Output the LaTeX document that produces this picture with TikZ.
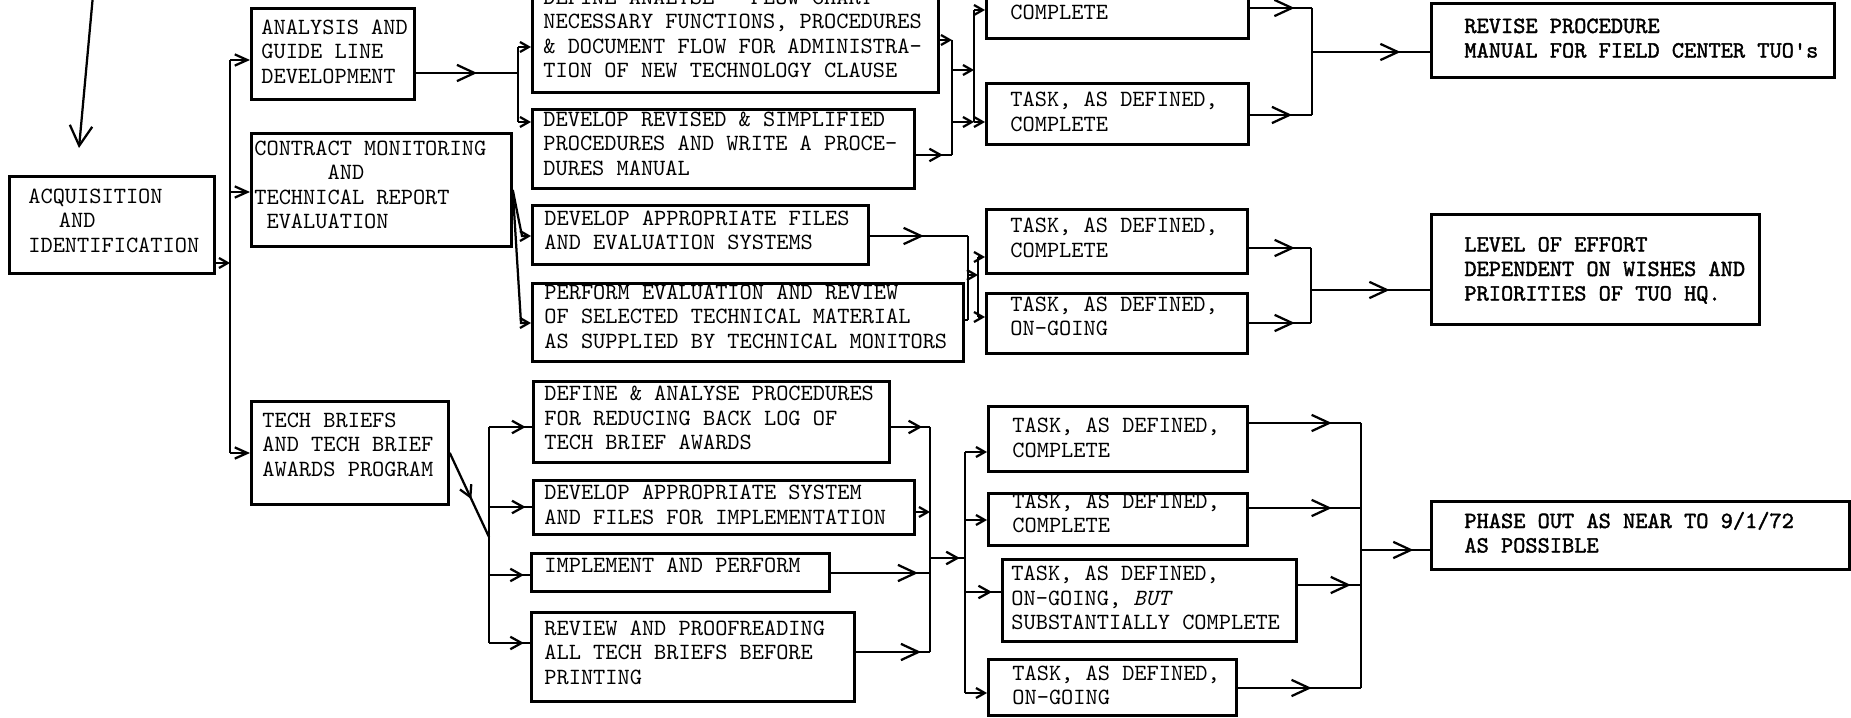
\documentclass[tikz,border=0pt]{standalone}
\usepackage{fontspec}
\setmonofont{lmmono10}[Extension=.otf, UprightFont=*-regular, ItalicFont=*-italic, BoldFont=*-regular, BoldFeatures={FakeBold=1.6}]
\usetikzlibrary{arrows.meta,decorations.markings}
\newcommand\tx[4]{\raisebox{#1}[\height][\depth]{\makebox[#3][l]{\hspace*{#2}\begin{tabular}{@{}l@{}}#4\end{tabular}}}}
\newcommand\chs[1]{\hspace*{#1\fontcharwd\font`M}}
\begin{document}
\begin{tikzpicture}[x=0.4pt,y=-0.4pt,
  box/.style={draw, line width=1.1pt, inner sep=0pt, anchor=north west, font=\ttfamily\fontsize{9.3}{9.8}\selectfont},
  bx/.style n args={2}{minimum width=#1, minimum height=#2},
  ln/.style={line width=0.9pt},
  tip/.style={-{Straight Barb[length=5pt,width=4.5pt]}},
  stip/.style={-{Straight Barb[length=3.5pt,width=4pt]}},
  marr/.style={postaction={decorate}, decoration={markings, mark=at position #1 with {\arrow{Straight Barb[length=7pt,width=6.5pt]}}}},
  smarr/.style={postaction={decorate}, decoration={markings, mark=at position #1 with {\arrow{Straight Barb[length=4.5pt,width=5pt]}}}}
]
\fill[white] (0,0) rectangle (1851,718);
\useasboundingbox (0,0) rectangle (1851,718);
\clip (0,0) rectangle (1851,718);

% ---------- boxes ----------
\node[box,bx={82pt}{38.8pt}] (acq) at (8,175) {\tx{0.9pt}{7.6pt}{82pt}{ACQUISITION\\\chs{2.5}AND\\IDENTIFICATION}};
\node[box,bx={65.2pt}{36.4pt}] (ana) at (250,7) {\tx{0pt}{4pt}{65.2pt}{ANALYSIS AND\\GUIDE LINE\\DEVELOPMENT}};
\node[box,bx={104pt}{45.2pt}] (con) at (250,132) {\tx{1.2pt}{1.2pt}{104pt}{CONTRACT MONITORING\\\chs{6}AND\\TECHNICAL REPORT\\\chs{1}EVALUATION}};
\node[box,bx={78.8pt}{41.2pt}] (tec) at (250,400) {\tx{2.4pt}{4.4pt}{78.8pt}{TECH BRIEFS\\AND TECH BRIEF\\AWARDS PROGRAM}};

\node[box,bx={162.4pt}{45.2pt}] (def) at (531,-22) {\tx{0pt}{4.4pt}{162.4pt}{DEFINE ANALYSE - FLOW CHART\\NECESSARY FUNCTIONS, PROCEDURES\\\& DOCUMENT FLOW FOR ADMINISTRA-\\TION OF NEW TECHNOLOGY CLAUSE}};
\node[box,bx={152.8pt}{31.6pt}] (dev) at (531,108) {\tx{1.2pt}{4.4pt}{152.8pt}{DEVELOP REVISED \& SIMPLIFIED\\PROCEDURES AND WRITE A PROCE-\\DURES MANUAL}};
\node[box,bx={104.8pt}{19.2pt}] (tk1) at (985,-11) {\tx{0pt}{9.6pt}{104.8pt}{COMPLETE}};
\node[box,bx={104.8pt}{24.4pt}] (tk2) at (985,82) {\tx{0pt}{9.6pt}{104.8pt}{TASK, AS DEFINED,\\COMPLETE}};
\node[box,bx={161.2pt}{29.6pt}] (rev) at (1430,2) {\bfseries\tx{0pt}{13.2pt}{161.2pt}{REVISE PROCEDURE\\MANUAL FOR FIELD CENTER TUO\textquotesingle s}};

\node[box,bx={134.4pt}{23.6pt}] (dfl) at (531,204) {\tx{0.9pt}{4.8pt}{134.4pt}{DEVELOP APPROPRIATE FILES\\AND EVALUATION SYSTEMS}};
\node[box,bx={172.4pt}{31.2pt}] (per) at (531,282) {\tx{1.4pt}{4.8pt}{172.4pt}{PERFORM EVALUATION AND REVIEW\\OF SELECTED TECHNICAL MATERIAL\\AS SUPPLIED BY TECHNICAL MONITORS}};
\node[box,bx={104.4pt}{25.6pt}] (tk3) at (985,208) {\tx{0.5pt}{9.6pt}{104.4pt}{TASK, AS DEFINED,\\COMPLETE}};
\node[box,bx={104.4pt}{24pt}] (tk4) at (985,292) {\tx{2pt}{9.6pt}{104.4pt}{TASK, AS DEFINED,\\ON-GOING}};
\node[box,bx={131.2pt}{44pt}] (lev) at (1430,213) {\bfseries\tx{-0.7pt}{13.2pt}{131.2pt}{LEVEL OF EFFORT\\DEPENDENT ON WISHES AND\\PRIORITIES OF TUO HQ.}};

\node[box,bx={142.4pt}{32.4pt}] (da) at (532,380) {\tx{0.6pt}{4.4pt}{142.4pt}{DEFINE \& ANALYSE PROCEDURES\\FOR REDUCING BACK LOG OF\\TECH BRIEF AWARDS}};
\node[box,bx={152.4pt}{21.6pt}] (ds) at (532,479) {\tx{0.2pt}{4.4pt}{152.4pt}{DEVELOP APPROPRIATE SYSTEM\\AND FILES FOR IMPLEMENTATION}};
\node[box,bx={119.2pt}{15.2pt}] (ip) at (530,552) {\tx{1.8pt}{5.2pt}{119.2pt}{IMPLEMENT AND PERFORM}};
\node[box,bx={129.2pt}{35.6pt}] (rv) at (530,611) {\tx{0.9pt}{5.2pt}{129.2pt}{REVIEW AND PROOFREADING\\ALL TECH BRIEFS BEFORE\\PRINTING}};
\node[box,bx={103.6pt}{26pt}] (tk5) at (987,405) {\tx{-0.5pt}{9.6pt}{103.6pt}{TASK, AS DEFINED,\\COMPLETE}};
\node[box,bx={103.6pt}{20.8pt}] (tk6) at (987,492) {\tx{1.6pt}{9.6pt}{103.6pt}{TASK, AS DEFINED,\\COMPLETE}};
\node[box,bx={117.6pt}{32.8pt}] (tk7) at (1001,558) {\tx{0pt}{3.6pt}{117.6pt}{TASK, AS DEFINED,\\ON-GOING, \textit{BUT}\\SUBSTANTIALLY COMPLETE}};
\node[box,bx={99.2pt}{22.4pt}] (tk8) at (987,658) {\tx{0pt}{9.6pt}{99.2pt}{TASK, AS DEFINED,\\ON-GOING}};
\node[box,bx={167.2pt}{27.2pt}] (pha) at (1430,500) {\bfseries\tx{0pt}{13.2pt}{167.2pt}{PHASE OUT AS NEAR TO 9/1/72\\AS POSSIBLE}};

% ---------- junction coordinates ----------
\coordinate (h1) at (93,-5);   \coordinate (h2) at (79,148);
\coordinate (b1t) at (230,60); \coordinate (b1c) at (230,192);
\coordinate (b1a) at (230,263); \coordinate (b1b) at (230,453);

\coordinate (a1) at (518,73);  \coordinate (a1t) at (518,47);  \coordinate (a1b) at (518,122);
\coordinate (a2t) at (952,40); \coordinate (a2b) at (952,155);
\coordinate (a2m1) at (952,70); \coordinate (a2m2) at (952,122);
\coordinate (a3t) at (974,10); \coordinate (a3b) at (974,122); \coordinate (a3m1) at (974,70);
\coordinate (a4t) at (1312,8); \coordinate (a4b) at (1312,115); \coordinate (a4m) at (1312,52);

\coordinate (c0) at (510,190); \coordinate (c1) at (522,236); \coordinate (c2) at (521,323);
\coordinate (d1t) at (968,236); \coordinate (d1b) at (968,320); \coordinate (d1m) at (968,275);
\coordinate (d2t) at (978,257); \coordinate (d2b) at (978,317); \coordinate (d2m) at (978,275);
\coordinate (d3t) at (1311,248); \coordinate (d3b) at (1311,323); \coordinate (d3m) at (1311,290);

\coordinate (e0) at (489,537); \coordinate (e1t) at (489,427); \coordinate (e1s) at (489,507);
\coordinate (e1i) at (489,575); \coordinate (e1b) at (489,643);
\coordinate (f1t) at (930,427); \coordinate (f1s) at (930,512); \coordinate (f1i) at (930,573);
\coordinate (f1b) at (930,652); \coordinate (f1m) at (930,558);
\coordinate (g1t) at (965,452); \coordinate (g1s) at (965,520); \coordinate (g1i) at (965,592);
\coordinate (g1b) at (965,693); \coordinate (g1m) at (965,558);
\coordinate (k1t) at (1361,423); \coordinate (k1s) at (1361,508); \coordinate (k1i) at (1361,585);
\coordinate (k1b) at (1361,688); \coordinate (k1m) at (1361,550);

% ---------- hand-drawn arrow ----------
\draw[ln,-{Straight Barb[length=8pt,width=9pt]}] (h1) -- (h2);

% ---------- first fan-out ----------
\draw[ln] (b1t) -- (b1b);
\draw[ln,stip] (acq.east |- b1a) -- (b1a);
\draw[ln,tip] (b1t) -- (ana.west |- b1t);
\draw[ln,tip] (b1c) -- (con.west |- b1c);
\draw[ln,tip] (b1b) -- (tec.west |- b1b);

% ---------- group A ----------
\draw[ln,marr=0.6] (ana.east |- a1) -- (a1);
\draw[ln] (a1t) -- (a1b);
\draw[ln,stip] (a1t) -- (def.west |- a1t);
\draw[ln,stip] (a1b) -- (dev.west |- a1b);
\draw[ln,stip] (def.east |- a2t) -- (a2t);
\draw[ln,smarr=0.75] (dev.east |- a2b) -- (a2b);
\draw[ln] (a2t) -- (a2b);
\draw[ln,stip] (a2m1) -- (a3m1);
\draw[ln,stip] (a2m2) -- (a3b);
\draw[ln] (a3t) -- (a3b);
\draw[ln,stip] (a3t) -- (tk1.west |- a3t);
\draw[ln,stip] (a3b) -- (tk2.west |- a3b);
\draw[ln,marr=0.72] (tk1.east |- a4t) -- (a4t);
\draw[ln,marr=0.68] (tk2.east |- a4b) -- (a4b);
\draw[ln] (a4t) -- (a4b);
\draw[ln,marr=0.75] (a4m) -- (rev.west |- a4m);

% ---------- group B ----------
\draw[ln,stip] (con.east |- c0) -- (c1) -- (dfl.west |- c1);
\draw[ln,stip] (con.east |- c0) -- (c2) -- (per.west |- c2);
\draw[ln,marr=0.55] (dfl.east |- d1t) -- (d1t);
\draw[ln] (per.east |- d1b) -- (d1b);
\draw[ln] (d1t) -- (d1b);
\draw[ln,stip] (d1m) -- (d2m);
\draw[ln] (d2t) -- (d2b);
\draw[ln,stip] (d2t) -- (tk3.west |- d2t);
\draw[ln,stip] (d2b) -- (tk4.west |- d2b);
\draw[ln,marr=0.74] (tk3.east |- d3t) -- (d3t);
\draw[ln,marr=0.74] (tk4.east |- d3b) -- (d3b);
\draw[ln] (d3t) -- (d3b);
\draw[ln,marr=0.66] (d3m) -- (lev.west |- d3m);

% ---------- group C ----------
\draw[ln,smarr=0.55] (tec.east) -- (e0);
\draw[ln] (e1t) -- (e1b);
\draw[ln,smarr=0.85] (e1t) -- (da.west |- e1t);
\draw[ln,smarr=0.85] (e1s) -- (ds.west |- e1s);
\draw[ln,smarr=0.85] (e1i) -- (ip.west |- e1i);
\draw[ln,smarr=0.85] (e1b) -- (rv.west |- e1b);
\draw[ln,smarr=0.8] (da.east |- f1t) -- (f1t);
\draw[ln,stip] (ds.east |- f1s) -- (f1s);
\draw[ln,marr=0.88] (ip.east |- f1i) -- (f1i);
\draw[ln,marr=0.88] (rv.east |- f1b) -- (f1b);
\draw[ln] (f1t) -- (f1b);
\draw[ln,smarr=0.85] (f1m) -- (g1m);
\draw[ln] (g1t) -- (g1b);
\draw[ln,stip] (g1t) -- (tk5.west |- g1t);
\draw[ln,stip] (g1s) -- (tk6.west |- g1s);
\draw[ln,smarr=0.75] (g1i) -- (tk7.west |- g1i);
\draw[ln,stip] (g1b) -- (tk8.west |- g1b);
\draw[ln,marr=0.74] (tk5.east |- k1t) -- (k1t);
\draw[ln,marr=0.74] (tk6.east |- k1s) -- (k1s);
\draw[ln,marr=0.84] (tk7.east |- k1i) -- (k1i);
\draw[ln,marr=0.6] (tk8.east |- k1b) -- (k1b);
\draw[ln] (k1t) -- (k1b);
\draw[ln,marr=0.76] (k1m) -- (pha.west |- k1m);
\end{tikzpicture}
\end{document}
